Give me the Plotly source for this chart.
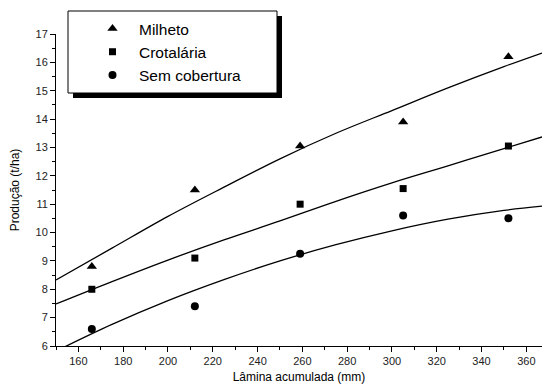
import plotly.graph_objects as go

# Data points
lamina = [166, 212, 259, 305, 352]
milheto = [8.8, 11.5, 13.05, 13.9, 16.2]
crotalaria = [8.0, 9.1, 11.0, 11.55, 13.05]
sem_cobertura = [6.6, 7.4, 9.25, 10.6, 10.5]

# Fitted curves
fit_x = [150, 175, 200, 225, 250, 275, 300, 325, 350, 367]
fit_milheto = [8.33, 9.45, 10.57, 11.6, 12.6, 13.5, 14.3, 15.1, 15.85, 16.33]
fit_crotalaria = [7.48, 8.27, 9.03, 9.74, 10.41, 11.1, 11.75, 12.35, 12.96, 13.37]
fit_sem = [5.82, 6.76, 7.6, 8.34, 9.0, 9.57, 10.06, 10.47, 10.78, 10.93]

x_ticks = [160, 180, 200, 220, 240, 260, 280, 300, 320, 340, 360]
y_ticks = [6, 7, 8, 9, 10, 11, 12, 13, 14, 15, 16, 17]

FONT = "Arial, Liberation Sans, sans-serif"

fig = go.Figure()
for fy in (fit_milheto, fit_crotalaria, fit_sem):
    fig.add_trace(go.Scatter(x=fit_x, y=fy, mode="lines", line=dict(color="black", width=1.3, shape="spline"),
                             showlegend=False, hoverinfo="skip"))

series = [("Milheto", milheto, "triangle-up", 9),
          ("Crotalária", crotalaria, "square", 7),
          ("Sem cobertura", sem_cobertura, "circle", 8)]
for name, ys, sym, sz in series:
    fig.add_trace(go.Scatter(x=lamina, y=ys, mode="markers", name=name,
                             marker=dict(symbol=sym, size=sz, color="black", line=dict(width=0))))

W, H = 542, 387
L, R, T, B = 56, 0, 34, 41
pw, ph = W - L - R, H - T - B

def px_x(p):
    return (p - L) / pw

def px_y(p):
    return (H - B - p) / ph

# legend box + shadow (in paper coords derived from pixels)
box = dict(x0=68, y0=11, x1=277, y1=93)
fig.add_shape(type="rect", xref="paper", yref="paper",
              x0=px_x(box["x0"] + 5), x1=px_x(box["x1"] + 5), y0=px_y(box["y1"] + 5), y1=px_y(box["y0"] + 5),
              fillcolor="black", line=dict(width=0), layer="above")
fig.add_shape(type="rect", xref="paper", yref="paper",
              x0=px_x(box["x0"]), x1=px_x(box["x1"]), y0=px_y(box["y1"]), y1=px_y(box["y0"]),
              fillcolor="white", line=dict(color="black", width=1), layer="above")

fig.update_layout(
    width=W, height=H,
    margin=dict(l=L, r=R, t=T, b=B),
    paper_bgcolor="white", plot_bgcolor="white",
    font=dict(family=FONT, color="black", size=11),
    legend=dict(x=px_x(86), y=px_y(12), xanchor="left", yanchor="top",
                bgcolor="rgba(0,0,0,0)", borderwidth=0,
                font=dict(size=15.5, family=FONT, color="black"),
                itemwidth=43, tracegroupgap=0),
    xaxis=dict(range=[150, 367], tickvals=x_ticks, showline=True, linecolor="black", linewidth=1,
               ticks="outside", ticklen=5, tickcolor="black", showgrid=False, zeroline=False,
               minor=dict(ticks="outside", ticklen=3, dtick=10, tickcolor="black", showgrid=False),
               tickfont=dict(size=11, color="#222"),
               title=dict(text="Lâmina acumulada (mm)", font=dict(size=12), standoff=6)),
    yaxis=dict(range=[6, 17], tickvals=y_ticks, showline=True, linecolor="black", linewidth=1,
               ticks="outside", ticklen=5, tickcolor="black", showgrid=False, zeroline=False,
               minor=dict(ticks="outside", ticklen=3, dtick=0.5, tickcolor="black", showgrid=False),
               tickfont=dict(size=11, color="#222"),
               title=dict(text="Produção (t/ha)", font=dict(size=12), standoff=13)),
)

fig.write_html("out.html")
